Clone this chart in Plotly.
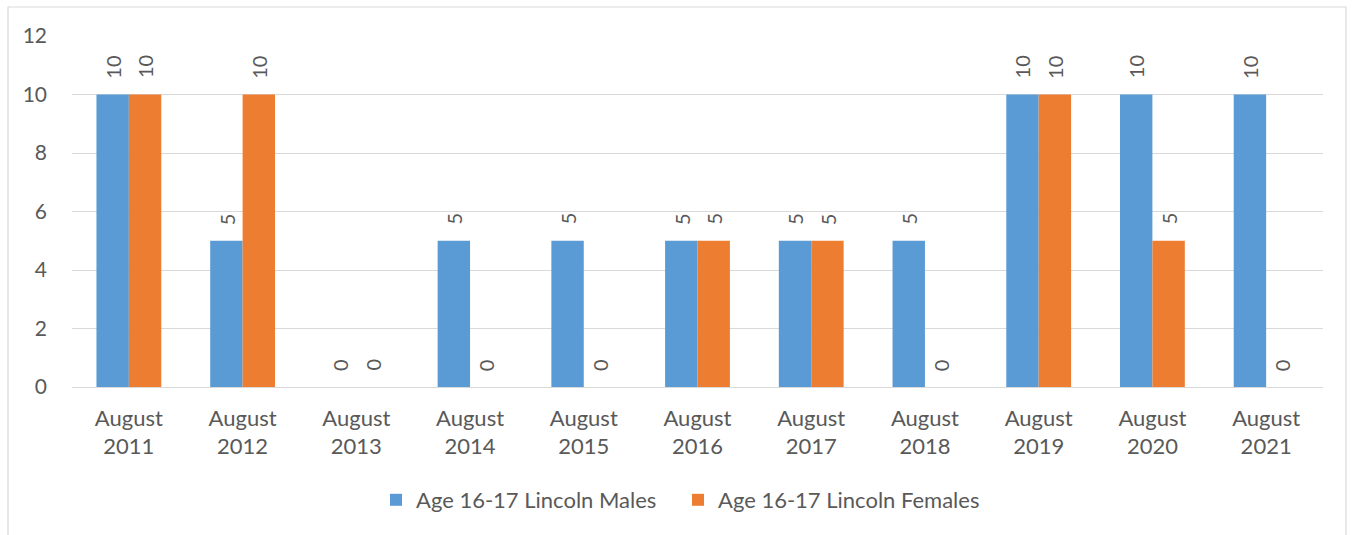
import plotly.graph_objects as go

categories = ["August<br>2011", "August<br>2012", "August<br>2013", "August<br>2014",
              "August<br>2015", "August<br>2016", "August<br>2017", "August<br>2018",
              "August<br>2019", "August<br>2020", "August<br>2021"]
males = [10, 5, 0, 5, 5, 5, 5, 5, 10, 10, 10]
females = [10, 10, 0, 0, 0, 5, 5, 0, 10, 5, 0]
y_ticks = [0, 2, 4, 6, 8, 10, 12]

BLUE = "#5B9BD5"
ORANGE = "#ED7D31"
TEXT = "#595959"
GRID = "#D9D9D9"
FONT = "Lato"

W, H = 1353, 535
M_L, M_R, M_T, M_B = 72, 30, 36, 148
plot_w = W - M_L - M_R
plot_h = H - M_T - M_B
BARGAP = 0.43
bar_px = plot_w / len(categories) * (1 - BARGAP) / 2

fig = go.Figure()
fig.add_trace(go.Bar(name="Age 16-17 Lincoln Males", x=categories, y=males,
                     marker=dict(color=BLUE, line=dict(width=0))))
fig.add_trace(go.Bar(name="Age 16-17 Lincoln Females", x=categories, y=females,
                     marker=dict(color=ORANGE, line=dict(width=0))))

# rotated value labels above each bar
annotations = []
for series, shift in ((males, -bar_px / 2), (females, bar_px / 2)):
    for cat, val in zip(categories, series):
        annotations.append(dict(
            x=cat, y=val, xref="x", yref="y", text=str(val), textangle=-90,
            showarrow=False, xanchor="center", yanchor="bottom",
            xshift=shift, yshift=14,
            font=dict(family=FONT, size=20, color=TEXT)))

# outer chart frame
px2x = lambda p: (p - M_L) / plot_w
px2y = lambda p: (H - M_B - p) / plot_h
shapes = [dict(type="rect", xref="paper", yref="paper",
               x0=px2x(8), x1=px2x(1346), y0=px2y(540), y1=px2y(7),
               line=dict(color=GRID, width=1.2), fillcolor="rgba(0,0,0,0)",
               layer="below")]

fig.update_layout(
    width=W, height=H,
    margin=dict(l=M_L, r=M_R, t=M_T, b=M_B, autoexpand=False),
    barmode="group", bargap=BARGAP, bargroupgap=0,
    plot_bgcolor="white", paper_bgcolor="white",
    font=dict(family=FONT, size=20, color=TEXT),
    xaxis=dict(showgrid=False, showline=True, linecolor=GRID, linewidth=1.3,
               ticks="", tickfont=dict(size=22, color=TEXT), ticklabelstandoff=11),
    yaxis=dict(range=[0, 12], tickvals=y_ticks, showgrid=True, gridcolor=GRID,
               gridwidth=1.3, zeroline=False, showline=False, ticks="",
               tickfont=dict(size=21, color=TEXT), ticklabelstandoff=24),
    legend=dict(orientation="h", x=px2x(376), xanchor="left", y=px2y(500),
                yanchor="middle", font=dict(size=22, color=TEXT),
                itemwidth=30, entrywidth=257, entrywidthmode="pixels"),
    annotations=annotations,
    shapes=shapes,
)

fig.write_html("out.html")
